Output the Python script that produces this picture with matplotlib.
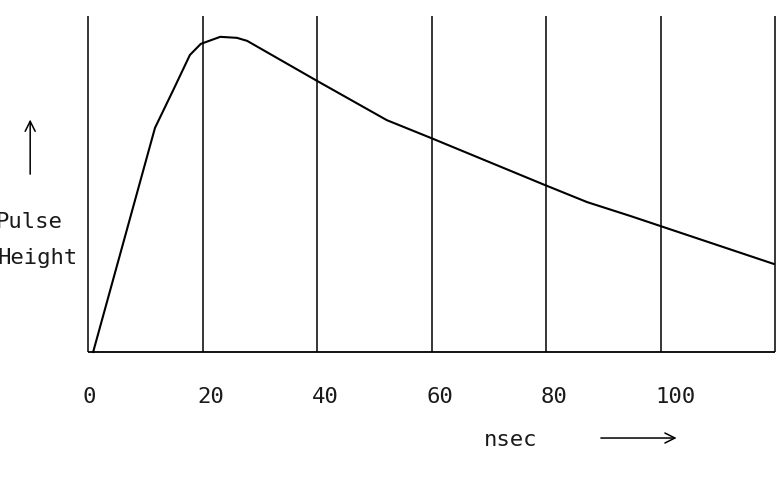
import matplotlib
matplotlib.use('Agg')
from matplotlib import pyplot as plt

# pulse shape (time in nsec, height in relative units)
t_ns = [0.9, 11.7, 14.9, 17.8, 19.7, 23.1, 26.0, 27.8, 40.0, 52.2, 59.9, 79.8, 87.2, 94.7, 119.8]
height = [0.0, 0.667, 0.780, 0.884, 0.917, 0.938, 0.935, 0.926, 0.807, 0.690, 0.637, 0.497, 0.446, 0.405, 0.262]

grid_x = [0, 20, 40, 60, 80, 100, 120]
tick_labels = ['0', '20', '40', '60', '80', '100']

FONT = 'DejaVu Sans Mono'
TXT = '#1a1a1a'


def main():
    fig = plt.figure(figsize=(7.81, 4.88), dpi=100)
    ax = fig.add_axes([88 / 781, 136 / 488, 687 / 781, 336 / 488])
    ax.set_xlim(0, 120)
    ax.set_ylim(0, 1.0)
    ax.axis('off')

    # frame: vertical lines every 20 nsec and the base line
    ax.vlines(grid_x, 0, 1.0, colors='black', lw=1.1, clip_on=False)
    ax.hlines(0, 0, 120, colors='black', lw=1.3, clip_on=False)

    ax.plot(t_ns, height, color='black', lw=1.5, clip_on=False)

    # tick labels below the base line
    for x, lab in zip(grid_x, tick_labels):
        ax.text(x - 0.9, -0.134, lab, ha='left', va='center',
                fontsize=16, family=FONT, color=TXT, clip_on=False)

    ax.text(69.2, -0.262, 'nsec', ha='left', va='center',
            fontsize=16, family=FONT, color=TXT, clip_on=False)
    ax.annotate('', xy=(103.3, -0.256), xytext=(89.1, -0.256),
                arrowprops=dict(arrowstyle='->', lw=1.1, color='black',
                                mutation_scale=18),
                annotation_clip=False)

    # y label on the left
    ax.text(-4.4, 0.387, 'Pulse', ha='right', va='center',
            fontsize=16, family=FONT, color=TXT, clip_on=False)
    ax.text(-1.75, 0.280, 'Height', ha='right', va='center',
            fontsize=16, family=FONT, color=TXT, clip_on=False)
    ax.annotate('', xy=(-10.1, 0.70), xytext=(-10.1, 0.521),
                arrowprops=dict(arrowstyle='->', lw=1.1, color='black',
                                mutation_scale=18),
                annotation_clip=False)

    fig.savefig('out.png', dpi=100)


if __name__ == '__main__':
    main()
